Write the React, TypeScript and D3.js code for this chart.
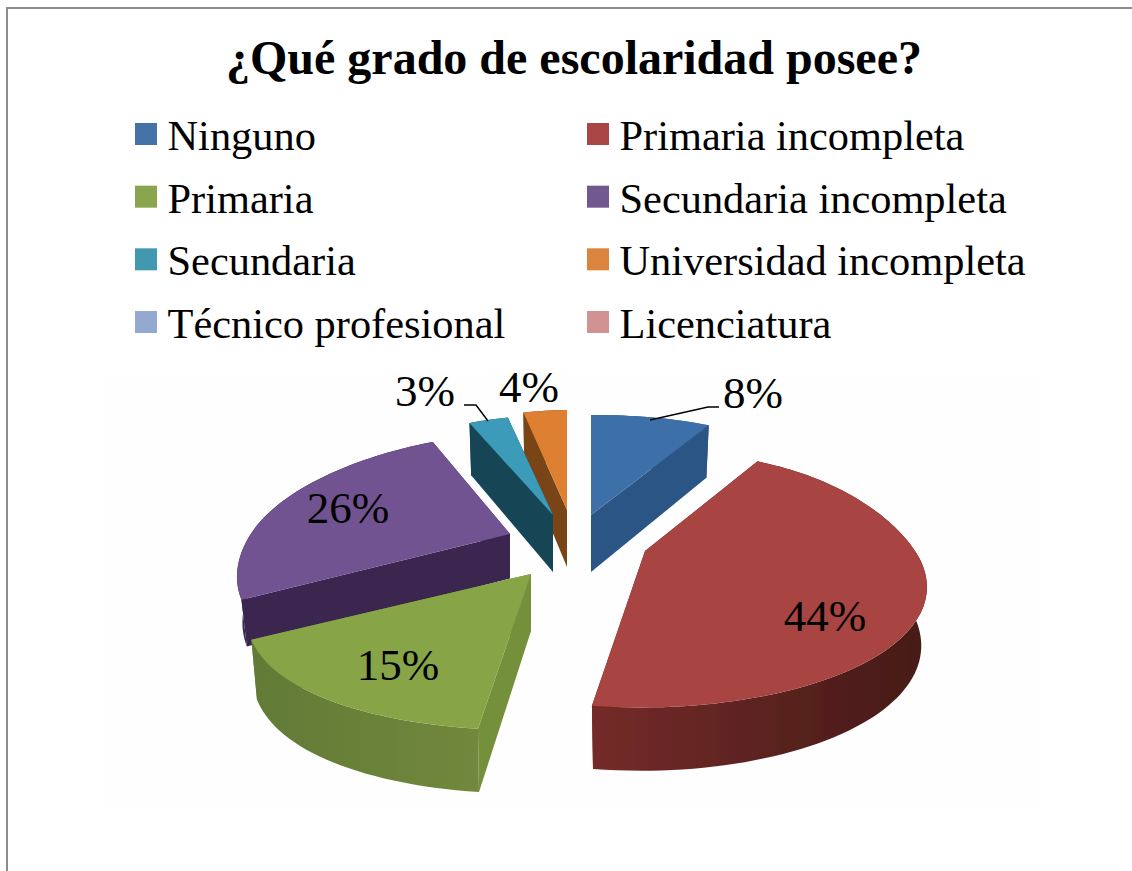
import React from "react";
import * as d3 from "d3";

const chartTitle = "¿Qué grado de escolaridad posee?";
const categories = ["Ninguno", "Primaria incompleta", "Primaria", "Secundaria incompleta", "Secundaria", "Universidad incompleta", "Técnico profesional", "Licenciatura"];
const percentages = [8, 44, 15, 26, 3, 4, 0, 0];

const swatchColors = ["#4572a7", "#aa4643", "#89a54e", "#71588f", "#4198af", "#db843d", "#93a9cf", "#d19392"];
const topColors = ["#3d6fa8", "#a84442", "#87a546", "#6f5290", "#3b9bb8", "#dd8030", "#93a9cf", "#d19392"];
const faceColors = ["#2c5585", "#5f2422", "#74903a", "#3a2650", "#164555", "#7a4412", "#5a6d8c", "#8a5a5a"];
const wallStart = ["#2c5585", "#742b29", "#71883c", "#3a2650", "#164555", "#7a4412", "#5a6d8c", "#8a5a5a"];
const wallEnd = ["#2c5585", "#451a17", "#627a36", "#3a2650", "#164555", "#7a4412", "#5a6d8c", "#8a5a5a"];

// Layout: how far each exploded slice sits from the pie centre, its wall height and width factor.
const explodeX = [11, 65, -49, -70, -27, -13, 0, 0];
const explodeY = [-25, 11, 34, -6, -25, -30, 0, 0];
const depthScale = [1, 1, 1, 0.78, 1, 1, 1, 1];
const widthScale = [1.05, 1, 1, 0.96, 1.03, 1, 1, 1];
const paintOrder = [5, 4, 0, 3, 1, 2];
const labelX = [753, 825, 398, 348, 425, 529];
const labelY = [408, 631, 680, 523, 406, 402];

const center = { x: 580, y: 540 };
const radiusX = 270;
const radiusY = 122;
const depth = 57;
const perspX = 0.3;
const perspY = 0.22;
const perspZ = 0.1;
const skewBack = 18;
const skewFront = 14;
const wallTaper = 0.98;

const project = (theta: number, r: number, w = 1) => {
  const X = r * Math.sin(theta);
  const C = -r * Math.cos(theta);
  const skew = C < 0 ? skewBack : skewFront;
  return {
    x: ((radiusX * X * w) / (1 - perspX * C)) - skew * C * Math.abs(C) * Math.sqrt(Math.abs(X)),
    y: (radiusY * C) / (1 - perspY * C),
    z: depth / (1 - perspZ * C),
  };
};

const lineGen = d3.line<[number, number]>().x((d) => d[0]).y((d) => d[1]);

const pieGen = d3.pie<number>().sort(null).value((d) => d);
const arcs = pieGen(percentages);

const sliceGeometry = (i: number) => {
  const a = arcs[i];
  const ox = center.x + explodeX[i];
  const oy = center.y + explodeY[i];
  const steps = Math.max(2, Math.ceil((a.endAngle - a.startAngle) / 0.03));
  const thetas = d3.range(steps + 1).map((k) => a.startAngle + ((a.endAngle - a.startAngle) * k) / steps);
  const rim = thetas.map((t) => project(t, 1, widthScale[i]));
  const apex = project(0, 0);
  const up = (p: { x: number; y: number }): [number, number] => [ox + p.x, oy + p.y];
  const down = (p: { x: number; y: number; z: number }): [number, number] => [ox + p.x * wallTaper, oy + p.y + p.z * depthScale[i]];
  const top = lineGen([up(apex), ...rim.map(up)]) + "Z";
  const wall = lineGen([...rim.map(up), ...rim.slice().reverse().map(down)]) + "Z";
  const faceA = lineGen([up(apex), up(rim[0]), down(rim[0]), down(apex)]) + "Z";
  const last = rim[rim.length - 1];
  const faceB = lineGen([up(apex), up(last), down(last), down(apex)]) + "Z";
  return { top, wall, faceA, faceB };
};

const legendCol = [135, 587];
const legendRowY = d3.scalePoint<number>().domain([0, 1, 2, 3]).range([150, 338]);

const serif = "'Liberation Serif', 'Times New Roman', serif";

export default function App() {
  return (
    <svg width={1132} height={871} style={{ position: "absolute", left: 0, top: 0, background: "#fff" }} fontFamily={serif}>
      <defs>
        <filter id="soft" x="-5%" y="-5%" width="110%" height="110%">
          <feGaussianBlur stdDeviation="0.7" />
        </filter>
        {paintOrder.map((i) => (
          <linearGradient key={i} id={`wall${i}`} x1="0" x2="1" y1="0" y2="0">
            <stop offset="0%" stopColor={i === 2 ? wallEnd[i] : wallStart[i]} />
            <stop offset="100%" stopColor={i === 2 ? wallStart[i] : wallEnd[i]} />
          </linearGradient>
        ))}
      </defs>

      <path d="M1132,8 H7 V871" fill="none" stroke="#8c8c8c" strokeWidth={2} />
      <rect x={105} y={372} width={935} height={438} fill="#fdfefd" />

      <text x={574} y={74} textAnchor="middle" fontSize={48} fontWeight="bold" fill="#000">{chartTitle}</text>

      {categories.map((c, i) => {
        const col = legendCol[i % 2];
        const base = legendRowY(Math.floor(i / 2)) as number;
        return (
          <g key={c}>
            <rect x={col} y={base - 27} width={22} height={22} fill={swatchColors[i]} />
            <text x={col + 32.5} y={base} fontSize={42.4} fill="#000">{c}</text>
          </g>
        );
      })}

      <g filter="url(#soft)">
        {paintOrder.map((i) => {
          const g = sliceGeometry(i);
          return (
            <g key={i}>
              <path d={g.faceA} fill={faceColors[i]} />
              <path d={g.faceB} fill={faceColors[i]} />
              <path d={g.wall} fill={`url(#wall${i})`} />
              <path d={g.top} fill={topColors[i]} />
            </g>
          );
        })}
      </g>

      <path d="M650,420 L708,407 H719" fill="none" stroke="#000" strokeWidth={1.5} />
      <path d="M464,405 H476 L488,421" fill="none" stroke="#000" strokeWidth={1.5} />

      {percentages.slice(0, 6).map((v, i) => (
        <text key={i} x={labelX[i]} y={labelY[i]} textAnchor="middle" fontSize={45} fill="#000">{`${v}%`}</text>
      ))}
    </svg>
  );
}
